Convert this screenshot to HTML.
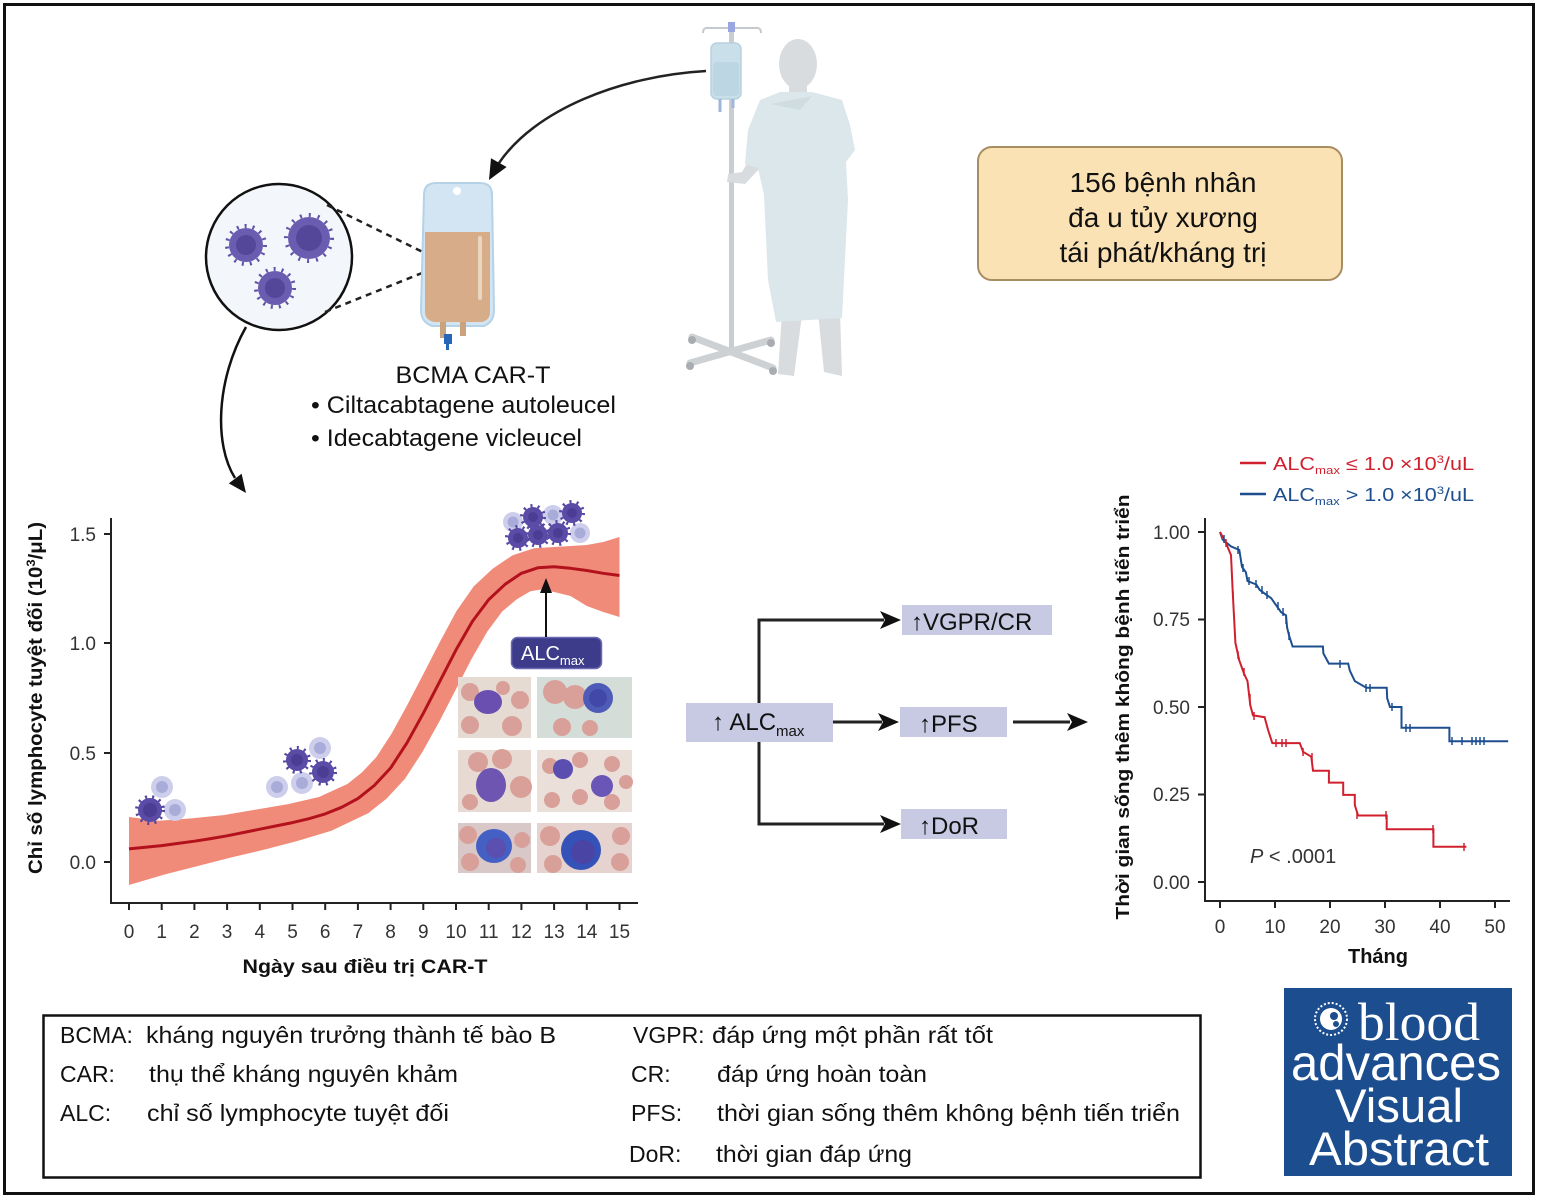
<!DOCTYPE html>
<html><head><meta charset="utf-8"><style>
html,body{margin:0;padding:0;background:#fff;}
svg{display:block;font-family:"Liberation Sans","DejaVu Sans",sans-serif;}
</style></head><body>
<svg width="1541" height="1200" viewBox="0 0 1541 1200" xmlns="http://www.w3.org/2000/svg">
<rect x="0" y="0" width="1541" height="1200" fill="#fff"/>
<rect x="4.5" y="4.5" width="1529" height="1189" fill="none" stroke="#111" stroke-width="3"/>

<!-- ===== IV pole + patient ===== -->
<g>
  <path d="M703,33 q0,-6 6,-5 L755,28 q6,-1 6,5" fill="none" stroke="#c6cacd" stroke-width="2"/>
  <rect x="729" y="24" width="5" height="330" fill="#c9cdd0"/>
  <rect x="728" y="22" width="7" height="10" fill="#9aa6e0"/>
  <rect x="711" y="43" width="30" height="56" rx="6" fill="#c9dfe9" stroke="#b7d1df" stroke-width="1.5"/>
  <rect x="713" y="62" width="26" height="34" rx="4" fill="#bcd6e3"/>
  <path d="M720,99 L720,112 M733,99 L733,108" stroke="#9fb6d8" stroke-width="3"/>
  <path d="M692,337 L773,368 M690,363 L771,340" stroke="#cdd1d4" stroke-width="7" stroke-linecap="round"/>
  <circle cx="692" cy="340" r="4" fill="#a9adb1"/><circle cx="773" cy="371" r="4" fill="#a9adb1"/>
  <circle cx="690" cy="366" r="4" fill="#a9adb1"/><circle cx="771" cy="343" r="4" fill="#a9adb1"/>
  <!-- patient -->
  <ellipse cx="798" cy="64" rx="19" ry="25" fill="#d9dcdf"/>
  <rect x="789" y="82" width="18" height="20" fill="#d9dcdf"/>
  <path d="M782,312 L778,374 L794,376 L802,315 Z M818,312 L824,372 L842,376 L840,310 Z" fill="#d9dcdf"/>
  <path d="M749,160 L742,172 L728,174 L727,182 L745,184 L760,168 Z" fill="#d9dcdf"/>
  <path d="M760,100 L780,92 L812,92 L842,100 L850,125 L855,150 L846,162 L848,200 L842,318 L776,322 L768,280 L764,195 L758,168 L745,164 L748,130 Z" fill="#dbe7eb"/>
  <path d="M770,104 L812,96 L800,110 Z" fill="#cfdde2"/>
</g>

<!-- curved arrow from IV to bag -->
<path d="M706,71 C620,76 535,110 499,163" fill="none" stroke="#222" stroke-width="2.5"/>
<polygon points="489,180 506.6,167 491,158.2" fill="#111"/>

<!-- ===== magnified circle ===== -->
<circle cx="279" cy="257" r="73" fill="#f3f6fb" stroke="#111" stroke-width="2.5"/>
<g>
  <circle cx="246" cy="245" r="19" fill="none" stroke="#6052a8" stroke-width="4" stroke-dasharray="2 6"/>
  <circle cx="246" cy="245" r="17" fill="#6a5cb0"/><circle cx="246" cy="245" r="10" fill="#54479a"/>
  <circle cx="309" cy="238" r="23" fill="none" stroke="#6052a8" stroke-width="4" stroke-dasharray="2 7"/>
  <circle cx="309" cy="238" r="21" fill="#6a5cb0"/><circle cx="309" cy="238" r="13" fill="#54479a"/>
  <circle cx="275" cy="288" r="19" fill="none" stroke="#6052a8" stroke-width="4" stroke-dasharray="2 6"/>
  <circle cx="275" cy="288" r="17" fill="#6a5cb0"/><circle cx="275" cy="288" r="10" fill="#54479a"/>
</g>
<path d="M327,205 L437,259 M325,312 L437,267" stroke="#222" stroke-width="2.5" stroke-dasharray="6 5"/>

<!-- bag -->
<g>
  <path d="M424,195 Q424,183 436,183 L480,183 Q492,183 492,195 L494,310 Q494,322 484,326 L432,326 Q421,322 421,310 Z" fill="#d3e5f2" stroke="#b5d2e6" stroke-width="2"/>
  <circle cx="457" cy="191" r="4" fill="#fff"/>
  <path d="M425,232 L490,232 L490,312 Q490,320 482,322 L434,322 Q425,320 425,312 Z" fill="#d6ad88"/>
  <rect x="478" y="236" width="4" height="64" rx="2" fill="#eee0cf" opacity="0.8"/>
  <rect x="440" y="322" width="6" height="16" fill="#caa27e"/>
  <rect x="460" y="322" width="6" height="14" fill="#caa27e"/>
  <rect x="444" y="334" width="8" height="10" fill="#2a66b8"/>
  <rect x="446" y="344" width="3" height="6" fill="#2a66b8"/>
</g>

<!-- left curved arrow -->
<path d="M246,327 C216,380 214,445 235,478" fill="none" stroke="#111" stroke-width="2.5"/>
<polygon points="246,493 241.6,473.8 228.8,483.4" fill="#111"/>

<!-- BCMA text -->
<text x="473" y="383" font-size="24" text-anchor="middle" fill="#111" textLength="155" lengthAdjust="spacingAndGlyphs">BCMA CAR-T</text>
<text x="311" y="413" font-size="24" fill="#111" textLength="305" lengthAdjust="spacingAndGlyphs">• Ciltacabtagene autoleucel</text>
<text x="311" y="446" font-size="24" fill="#111" textLength="271" lengthAdjust="spacingAndGlyphs">• Idecabtagene vicleucel</text>

<!-- orange box -->
<rect x="978" y="147" width="364" height="133" rx="14" fill="#fae2b4" stroke="#a88c62" stroke-width="2"/>
<g font-size="28" fill="#111" text-anchor="middle">
  <text x="1163" y="192">156 bệnh nhân</text>
  <text x="1163" y="227">đa u tủy xương</text>
  <text x="1163" y="262">tái phát/kháng trị</text>
</g>

<!-- ===== left chart ===== -->
<polygon fill="#f08b7a" points="129,817 159.2,820.7 191.2,818.4 223.4,815.1 255.9,809.6 288.1,804.1 319.0,797.0 347.6,783.9 362.0,772.4 376.3,757.1 391.6,733.6 407.4,704.8 423.7,673.4 440.2,641.3 456.5,611.0 473.7,586.4 492.6,568.7 512.4,555.4 533.9,548.2 554.1,547 570.5,546 586.8,545 603.2,542 619.5,537 619.5,617 603.2,612 586.8,606 570.5,596 554.1,592 542.1,589.4 530.4,591.2 517.0,599.1 502.2,611.5 487.5,631.2 471.8,658.5 455.7,689.8 439.2,721.8 422.4,752.0 404.9,778.9 386.6,798.6 368.2,813.3 331.4,830.8 296.9,841.1 263.9,849.8 231.0,857.5 197.9,866.0 164.6,874.5 129,885"/>
<polyline fill="none" stroke="#b3121c" stroke-width="3" stroke-linejoin="round" points="129,848.9 145.4,847.3 161.7,845.6 178.1,843.4 194.4,841.2 210.8,838.6 227.1,835.8 243.5,832.5 259.8,829.2 276.2,825.9 292.5,822.6 308.9,818.7 325.2,813.9 341.6,807.3 357.9,798.6 374.3,785.5 390.6,768.0 407.0,742.8 423.3,713.3 439.7,681.6 456.0,649.9 472.4,621.4 488.7,599.6 505.1,584.3 521.4,573.3 537.8,567.8 554.1,566.8 570.5,568.3 586.8,570.5 603.2,573.3 619.5,575.5"/>

<!-- cells on chart -->
<g>
  <g fill="#ccceeb"><circle cx="162" cy="787" r="11"/><circle cx="175" cy="810" r="11"/><circle cx="320" cy="748" r="11"/><circle cx="277" cy="787" r="11"/><circle cx="302" cy="783" r="11"/><circle cx="513" cy="522" r="10"/><circle cx="553" cy="515" r="10"/><circle cx="580" cy="533" r="10"/></g>
  <g fill="#a9acd9"><circle cx="162" cy="787" r="6"/><circle cx="175" cy="810" r="6"/><circle cx="320" cy="748" r="6"/><circle cx="277" cy="787" r="6"/><circle cx="302" cy="783" r="6"/><circle cx="513" cy="522" r="5.5"/><circle cx="553" cy="515" r="5.5"/><circle cx="580" cy="533" r="5.5"/></g>
  <g fill="none" stroke="#5546a2" stroke-width="4" stroke-dasharray="2 5"><circle cx="150" cy="810" r="13"/><circle cx="297" cy="760" r="12"/><circle cx="323" cy="772" r="12"/><circle cx="533" cy="517" r="11"/><circle cx="572" cy="513" r="11"/><circle cx="518" cy="538" r="11"/><circle cx="538" cy="535" r="11"/><circle cx="558" cy="533" r="11"/></g>
  <g fill="#5a4ca6"><circle cx="150" cy="810" r="12"/><circle cx="297" cy="760" r="11"/><circle cx="323" cy="772" r="11"/><circle cx="533" cy="517" r="10"/><circle cx="572" cy="513" r="10"/><circle cx="518" cy="538" r="10"/><circle cx="538" cy="535" r="10"/><circle cx="558" cy="533" r="10"/></g>
  <g fill="#4a3d93"><circle cx="150" cy="810" r="7"/><circle cx="297" cy="760" r="6"/><circle cx="323" cy="772" r="6"/><circle cx="533" cy="517" r="5"/><circle cx="572" cy="513" r="5"/><circle cx="518" cy="538" r="5"/><circle cx="538" cy="535" r="5"/><circle cx="558" cy="533" r="5"/></g>
</g>

<!-- micrographs -->
<g>
  <rect x="458" y="677" width="73" height="61" fill="#e5dbd2"/>
  <rect x="537" y="677" width="95" height="61" fill="#d5ddd8"/>
  <rect x="458" y="750" width="73" height="62" fill="#e6dad3"/>
  <rect x="537" y="750" width="95" height="62" fill="#eadfd9"/>
  <rect x="458" y="823" width="73" height="50" fill="#d9c8c8"/>
  <rect x="537" y="823" width="95" height="50" fill="#e6d2cf"/>
  <g fill="#d9a09a">
    <circle cx="470" cy="692" r="9"/><circle cx="470" cy="725" r="9"/><circle cx="520" cy="700" r="9"/><circle cx="512" cy="726" r="10"/><circle cx="503" cy="688" r="7"/>
    <circle cx="555" cy="692" r="12"/><circle cx="575" cy="697" r="12"/><circle cx="562" cy="727" r="9"/><circle cx="590" cy="728" r="8"/>
    <circle cx="478" cy="762" r="10"/><circle cx="502" cy="759" r="10"/><circle cx="521" cy="787" r="11"/><circle cx="470" cy="802" r="8"/>
    <circle cx="550" cy="766" r="8"/><circle cx="580" cy="760" r="8"/><circle cx="612" cy="764" r="8"/><circle cx="552" cy="800" r="8"/><circle cx="580" cy="797" r="8"/><circle cx="612" cy="802" r="8"/><circle cx="626" cy="782" r="7"/>
    <circle cx="468" cy="835" r="9"/><circle cx="470" cy="862" r="9"/><circle cx="522" cy="840" r="8"/><circle cx="518" cy="865" r="8"/>
    <circle cx="550" cy="836" r="10"/><circle cx="553" cy="864" r="9"/><circle cx="621" cy="836" r="9"/><circle cx="620" cy="862" r="9"/>
  </g>
  <ellipse cx="488" cy="702" rx="14" ry="12" fill="#6a4fb0"/>
  <circle cx="598" cy="698" r="15" fill="#4e5cb8"/><circle cx="598" cy="698" r="9" fill="#4248a8"/>
  <ellipse cx="491" cy="785" rx="15" ry="17" fill="#6e55b2"/>
  <circle cx="563" cy="769" r="10" fill="#5a4eb0"/><circle cx="602" cy="786" r="11" fill="#6a56b6"/>
  <ellipse cx="494" cy="846" rx="18" ry="17" fill="#4560c4"/><circle cx="496" cy="848" r="10" fill="#5a4fae"/>
  <circle cx="581" cy="850" r="20" fill="#3552b8"/><circle cx="583" cy="852" r="12" fill="#4a44a4"/>
</g>

<!-- ALCmax label -->
<rect x="511.5" y="637.5" width="90" height="31" rx="6" fill="#3c3c8a" stroke="#6a6ab4" stroke-width="1.5"/>
<text x="521" y="660" font-size="20" fill="#fff">ALC<tspan font-size="13" dy="5">max</tspan></text>
<line x1="546" y1="637" x2="546" y2="592" stroke="#111" stroke-width="2"/>
<polygon points="546,578 540,593 552,593" fill="#111"/>

<!-- axes left chart -->
<g stroke="#222" stroke-width="2" fill="none">
  <path d="M111,518 L111,903 L638,903"/>
  <path d="M104,534 H111 M104,643 H111 M104,753 H111 M104,862 H111"/>
  <path d="M129,903 v7 M161.7,903 v7 M194.4,903 v7 M227.1,903 v7 M259.8,903 v7 M292.5,903 v7 M325.2,903 v7 M357.9,903 v7 M390.6,903 v7 M423.3,903 v7 M456,903 v7 M488.7,903 v7 M521.4,903 v7 M554.1,903 v7 M586.8,903 v7 M619.5,903 v7"/>
</g>
<g font-size="19" fill="#333" text-anchor="end">
  <text x="96" y="541">1.5</text><text x="96" y="650">1.0</text><text x="96" y="760">0.5</text><text x="96" y="869">0.0</text>
</g>
<g font-size="19" fill="#333" text-anchor="middle">
  <text x="129" y="938">0</text><text x="161.7" y="938">1</text><text x="194.4" y="938">2</text><text x="227.1" y="938">3</text><text x="259.8" y="938">4</text><text x="292.5" y="938">5</text><text x="325.2" y="938">6</text><text x="357.9" y="938">7</text><text x="390.6" y="938">8</text><text x="423.3" y="938">9</text><text x="456" y="938">10</text><text x="488.7" y="938">11</text><text x="521.4" y="938">12</text><text x="554.1" y="938">13</text><text x="586.8" y="938">14</text><text x="619.5" y="938">15</text>
</g>
<text x="365" y="973" font-size="19" font-weight="bold" fill="#111" text-anchor="middle" textLength="245" lengthAdjust="spacingAndGlyphs">Ngày sau điều trị CAR-T</text>
<text transform="translate(42,698) rotate(-90)" font-size="19" font-weight="bold" fill="#111" text-anchor="middle" textLength="352" lengthAdjust="spacingAndGlyphs">Chỉ số lymphocyte tuyệt đối (10<tspan font-size="12" dy="-7">3</tspan><tspan dy="7">/μL)</tspan></text>

<!-- ===== flow diagram ===== -->
<g>
  <rect x="686" y="703" width="147" height="39" fill="#c8c9e3"/>
  <text x="712" y="730" font-size="24" fill="#111">↑ ALC<tspan font-size="15" dy="6">max</tspan></text>
  <rect x="902" y="605" width="150" height="30" fill="#c8c9e3"/>
  <text x="911" y="630" font-size="24" fill="#111">↑VGPR/CR</text>
  <rect x="900" y="707" width="107" height="30" fill="#c8c9e3"/>
  <text x="919" y="732" font-size="24" fill="#111">↑PFS</text>
  <rect x="901" y="809" width="106" height="30" fill="#c8c9e3"/>
  <text x="919" y="834" font-size="24" fill="#111">↑DoR</text>
  <g stroke="#222" stroke-width="3" fill="none">
    <polyline points="759,703 759,620 884,620"/>
    <polyline points="759,742 759,824 884,824"/>
    <line x1="833" y1="722" x2="882" y2="722"/>
    <line x1="1013" y1="722" x2="1070" y2="722"/>
  </g>
  <g fill="#111">
    <polygon points="901,620 880,611 885,620 880,629"/>
    <polygon points="901,824 880,815 885,824 880,833"/>
    <polygon points="899,722 878,713 883,722 878,731"/>
    <polygon points="1088,722 1067,713 1072,722 1067,731"/>
  </g>
</g>

<!-- ===== KM chart ===== -->
<g>
  <line x1="1240" y1="463" x2="1266" y2="463" stroke="#d0202e" stroke-width="2.5"/>
  <text x="1273" y="470" font-size="18" fill="#d0202e" textLength="201" lengthAdjust="spacingAndGlyphs">ALC<tspan font-size="11" dy="4">max</tspan><tspan dy="-4"> ≤ 1.0 ×10</tspan><tspan font-size="11" dy="-7">3</tspan><tspan dy="7">/uL</tspan></text>
  <line x1="1240" y1="494" x2="1266" y2="494" stroke="#1d4f8f" stroke-width="2.5"/>
  <text x="1273" y="501" font-size="18" fill="#1d4f8f" textLength="201" lengthAdjust="spacingAndGlyphs">ALC<tspan font-size="11" dy="4">max</tspan><tspan dy="-4"> &gt; 1.0 ×10</tspan><tspan font-size="11" dy="-7">3</tspan><tspan dy="7">/uL</tspan></text>
</g>
<g stroke="#222" stroke-width="2" fill="none">
  <path d="M1205,518 L1205,901 L1510,901"/>
  <path d="M1198,532 H1205 M1198,619.5 H1205 M1198,707 H1205 M1198,794.5 H1205 M1198,882 H1205"/>
  <path d="M1220,901 v7 M1275,901 v7 M1330,901 v7 M1385,901 v7 M1440,901 v7 M1495,901 v7"/>
</g>
<g font-size="19" fill="#333" text-anchor="end">
  <text x="1190" y="539">1.00</text><text x="1190" y="626">0.75</text><text x="1190" y="714">0.50</text><text x="1190" y="801">0.25</text><text x="1190" y="889">0.00</text>
</g>
<g font-size="19" fill="#333" text-anchor="middle">
  <text x="1220" y="933">0</text><text x="1275" y="933">10</text><text x="1330" y="933">20</text><text x="1385" y="933">30</text><text x="1440" y="933">40</text><text x="1495" y="933">50</text>
</g>
<text x="1378" y="963" font-size="20" font-weight="bold" fill="#111" text-anchor="middle">Tháng</text>
<text transform="translate(1129,707) rotate(-90)" font-size="18" font-weight="bold" fill="#111" text-anchor="middle" textLength="425" lengthAdjust="spacingAndGlyphs">Thời gian sống thêm không bệnh tiến triển</text>
<text x="1250" y="863" font-size="20" fill="#333"><tspan font-style="italic">P</tspan> &lt; .0001</text>

<polyline fill="none" stroke="#1d4f8f" stroke-width="2" points="1220,532 1222.7,539.7 1231,546.4 1239.3,549.9 1242,567 1245.9,572.3 1247.5,581 1256.3,584.5 1259.6,589.8 1266.2,594.7 1271.2,598.2 1276.1,605.2 1281.1,612.2 1286,615.3 1287.1,627.6 1289.3,636.3 1292.6,646.5 1322.9,646.5 1323.4,653.5 1328.9,663.6 1348.2,663.6 1349.8,670.6 1354.8,681.1 1366.3,687.8 1386.7,687.8 1387.2,698.3 1390,707 1401.5,707 1401.5,727.7 1449.4,727.7 1449.4,741.3 1508.2,741.3"/>
<polyline fill="none" stroke="#d0202e" stroke-width="2" points="1220,532 1226,543.2 1231,555.1 1232.7,591.5 1235.4,642.9 1239.3,660.5 1244.2,674.1 1247.5,681.1 1250.3,705.3 1253,715.4 1264.6,717.2 1267.9,729.4 1272.3,743.1 1299.8,743.1 1303.1,751.8 1311.3,756.7 1313,770.7 1328.9,770.7 1328.9,782.6 1343.2,782.6 1343.2,794.9 1354.8,794.9 1354.8,805 1358.1,815.5 1386.7,815.5 1386.7,829.2 1433.4,829.2 1433.4,846.7 1466.4,846.7"/>
<path fill="none" stroke="#1d4f8f" stroke-width="1.5" d="M1224,535v8 M1238,546v8 M1243,564v8 M1249,577v8 M1256,580v8 M1262,586v8 M1267,591v8 M1278,602v8 M1283,608v8 M1286,616v8 M1289,632v8 M1340,660v8 M1366,684v8 M1370,684v8 M1392,703v8 M1406,724v8 M1410,724v8 M1452,737v8 M1462,737v8 M1472,737v8 M1476,737v8 M1480,737v8 M1484,737v8"/>
<path fill="none" stroke="#d0202e" stroke-width="1.5" d="M1226,539v8 M1233,591v8 M1238,651v8 M1244,668v8 M1250,694v8 M1254,712v8 M1276,739v8 M1282,739v8 M1286,739v8 M1303,748v8 M1312,753v8 M1357,811v8 M1386,811v8 M1433,825v8 M1464,843v8"/>

<!-- ===== abbreviations box ===== -->
<rect x="43.5" y="1015.5" width="1157" height="162" fill="#fff" stroke="#111" stroke-width="2.5"/>
<g font-size="23" fill="#111">
  <text x="60" y="1043">BCMA:</text><text x="146" y="1043" textLength="410" lengthAdjust="spacingAndGlyphs">kháng nguyên trưởng thành tế bào B</text>
  <text x="60" y="1082">CAR:</text><text x="149" y="1082" textLength="309" lengthAdjust="spacingAndGlyphs">thụ thể kháng nguyên khảm</text>
  <text x="60" y="1121">ALC:</text><text x="147" y="1121" textLength="302" lengthAdjust="spacingAndGlyphs">chỉ số lymphocyte tuyệt đối</text>
  <text x="633" y="1043">VGPR:</text><text x="712" y="1043" textLength="281" lengthAdjust="spacingAndGlyphs">đáp ứng một phần rất tốt</text>
  <text x="631" y="1082">CR:</text><text x="717" y="1082" textLength="210" lengthAdjust="spacingAndGlyphs">đáp ứng hoàn toàn</text>
  <text x="631" y="1121">PFS:</text><text x="717" y="1121" textLength="463" lengthAdjust="spacingAndGlyphs">thời gian sống thêm không bệnh tiến triển</text>
  <text x="629" y="1162">DoR:</text><text x="716" y="1162" textLength="196" lengthAdjust="spacingAndGlyphs">thời gian đáp ứng</text>
</g>

<!-- ===== logo ===== -->
<rect x="1284" y="988" width="228" height="188" fill="#1b4d8f"/>
<circle cx="1331" cy="1019" r="16" fill="none" stroke="#fff" stroke-width="2" stroke-dasharray="2 2"/>
<circle cx="1331" cy="1019" r="11" fill="#fff"/>
<circle cx="1334" cy="1016" r="4" fill="#1b4d8f"/><circle cx="1336" cy="1024" r="3" fill="#1b4d8f"/>
<text x="1358" y="1040" font-family="Liberation Serif, serif" font-size="54" fill="#fff" textLength="122" lengthAdjust="spacingAndGlyphs">blood</text>
<text x="1291" y="1080" font-size="50" fill="#fff" textLength="210" lengthAdjust="spacingAndGlyphs">advances</text>
<text x="1399" y="1122" font-size="47" fill="#fff" text-anchor="middle" textLength="128" lengthAdjust="spacingAndGlyphs">Visual</text>
<text x="1399" y="1165" font-size="47" fill="#fff" text-anchor="middle" textLength="180" lengthAdjust="spacingAndGlyphs">Abstract</text>
</svg>
</body></html>
